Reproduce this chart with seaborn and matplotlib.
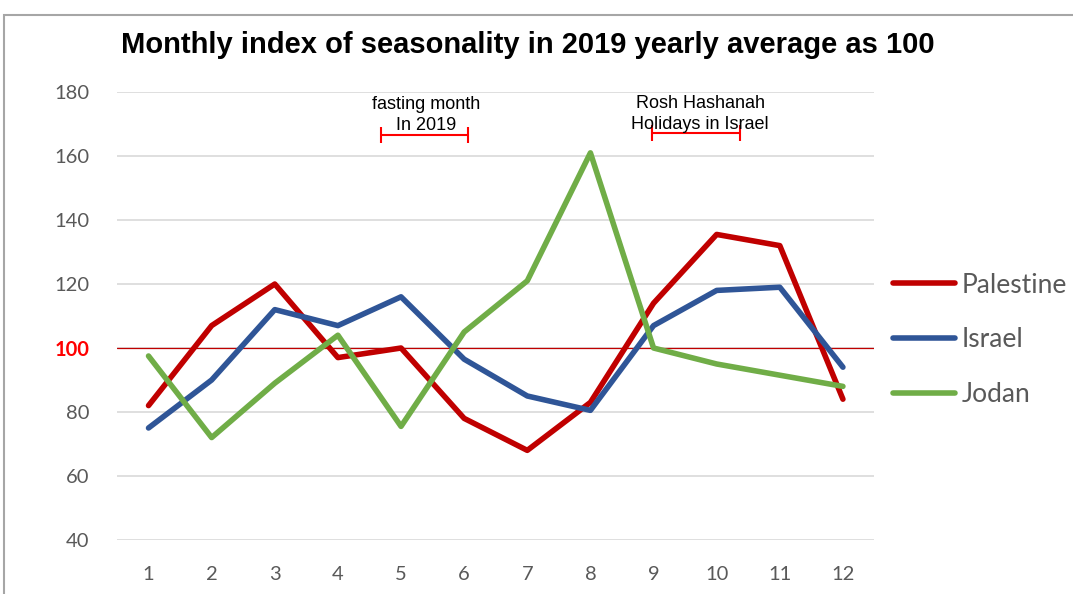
import pandas as pd
import seaborn as sns
import matplotlib
matplotlib.use("Agg")
import matplotlib.pyplot as plt
from matplotlib.patches import Rectangle

# ------------------------------------------------------------------------------
# data
# ------------------------------------------------------------------------------
months = list(range(1, 13))
palestine = [82, 107, 120, 97, 100, 78, 68, 83, 114, 135.5, 132, 84]
israel = [75, 90, 112, 107, 116, 96.5, 85, 80.5, 107, 118, 119, 94]
jodan = [97.5, 72, 89, 104, 75.5, 105, 121, 161, 100, 95, 91.5, 88]
series_names = ["Palestine", "Israel", "Jodan"]
colors = ["#C00000", "#2F5597", "#70AD47"]

df = pd.DataFrame({
    "month": months * 3,
    "value": palestine + israel + jodan,
    "country": [n for n in series_names for _ in months],
})

# ------------------------------------------------------------------------------
# plot
# ------------------------------------------------------------------------------
sns.set_style("white")
plt.rcParams['font.family'] = ['Liberation Sans', 'DejaVu Sans']
narrow = ['Lato', 'DejaVu Sans']

fig = plt.figure(figsize=(10.73, 5.94), dpi=100)
ax = fig.add_axes([0.109, 0.091, 0.706, 0.754])

# outer chart frame
fig.patches.append(Rectangle((0.004, -0.01), 1.0, 0.985, transform=fig.transFigure,
                             fill=False, edgecolor="#A6A6A6", linewidth=1.5))

sns.lineplot(data=df, x="month", y="value", hue="country", palette=colors,
             linewidth=4, solid_capstyle="round", ax=ax, legend=False)

ax.set_xlim(0.5, 12.5)
ax.set_ylim(40, 180)
ax.set_yticks(range(40, 181, 20))
ax.set_xticks(months)
ax.yaxis.grid(True, color="#D9D9D9", linewidth=1.2)
ax.set_axisbelow(True)
for s in ax.spines.values():
    s.set_visible(False)
ax.tick_params(length=0, labelsize=14.5, labelcolor="#595959")
ax.tick_params(axis="y", pad=20)
ax.tick_params(axis="x", pad=19)
ax.set_xlabel("")
ax.set_ylabel("")
for lab in ax.get_xticklabels() + ax.get_yticklabels():
    lab.set_family(narrow)
for lab in ax.get_yticklabels():
    if lab.get_text() == "100":
        lab.set_color("#FF0000")
        lab.set_fontweight("bold")

# reference line at 100
ax.axhline(100, color="#C00000", linewidth=0.9, zorder=1)

fig.text(0.492, 0.924, "Monthly index of seasonality in 2019 yearly average as 100",
         ha="center", va="center", fontsize=21, fontweight="bold", color="black")

# annotations
ax.text(5.39, 172.7, "fasting month\nIn 2019", ha="center", va="center", fontsize=13,
        linespacing=1.3, color="black")
ax.errorbar([5.37], [166.6], xerr=[[0.69]], fmt="none", ecolor="#FF0000",
            elinewidth=1.5, capsize=6, capthick=1.5)
ax.text(9.74, 173.2, "Rosh Hashanah\nHolidays in Israel", ha="center", va="center",
        fontsize=13, linespacing=1.3, color="black")
ax.errorbar([9.67], [167.2], xerr=[[0.7]], fmt="none", ecolor="#FF0000",
            elinewidth=1.5, capsize=6, capthick=1.5)

# legend
handles = [plt.Line2D([], [], color=c, linewidth=4, solid_capstyle="round") for c in colors]
leg = fig.legend(handles, series_names, loc="center left", bbox_to_anchor=(0.81, 0.428),
                 frameon=False, prop={"family": narrow, "size": 19}, handlelength=2.35,
                 handletextpad=0.25, labelspacing=1.12, labelcolor="#595959")

fig.savefig("out.png", dpi=100)
